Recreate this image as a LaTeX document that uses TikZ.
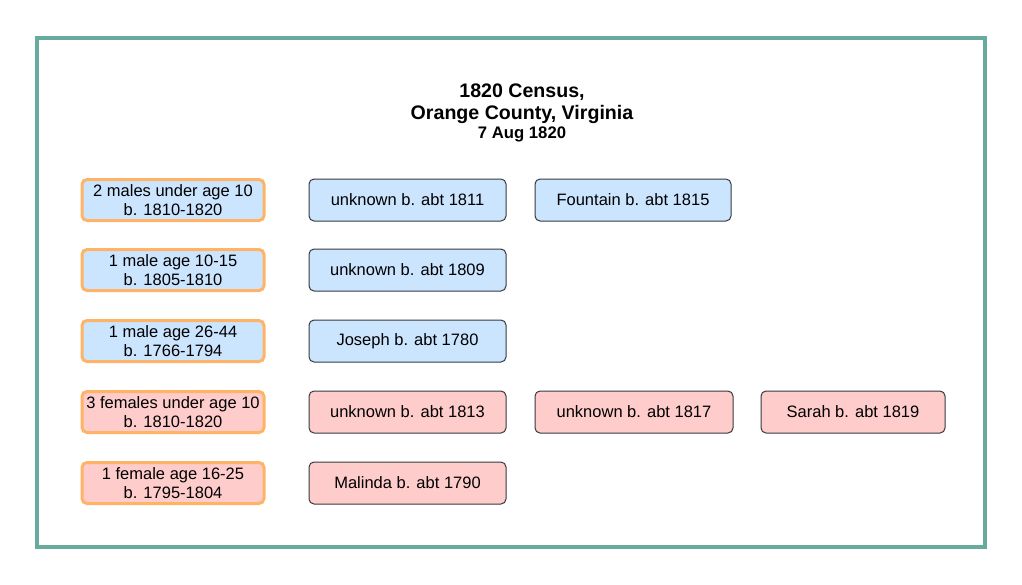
\documentclass[tikz,border=0pt]{standalone}
\usepackage{fontspec}
\setmainfont{Liberation Sans}
\definecolor{frame}{HTML}{67AB9F}
\definecolor{bluef}{HTML}{CCE5FF}
\definecolor{pinkf}{HTML}{FFCCCC}
\definecolor{orng}{HTML}{FFB366}
\definecolor{dgrey}{HTML}{36393D}
\begin{document}
\begin{tikzpicture}[x=1pt,y=-1pt,
  every node/.style={font=\fontsize{16.5}{19}\selectfont, align=center, inner sep=0pt},
  catbox/.style={draw=orng, line width=3pt, rounded corners=5pt, minimum width=182pt, minimum height=41pt},
  person/.style={draw=dgrey, line width=1pt, rounded corners=5pt, minimum height=42pt},
  male/.style={fill=bluef},
  female/.style={fill=pinkf}]
\useasboundingbox (0,0) rectangle (1022,584);
\node[draw=frame, line width=4pt, minimum width=948pt, minimum height=509pt] (frm) at (511,292.5) {};
\node[font=\bfseries\fontsize{19.6}{22}\selectfont] (t1) at (522,92) {1820 Census,};
\node[font=\bfseries\fontsize{19.6}{22}\selectfont] (t2) at (522,114) {Orange County, Virginia};
\node[font=\bfseries\fontsize{16.7}{19}\selectfont] (t3) at (522,134) {7 Aug 1820};

\node[catbox, male] (c1) at (173,200) {2 males under age 10\\b. 1810-1820};
\node[catbox, male] (c2) at (173,270) {1 male age 10-15\\b. 1805-1810};
\node[catbox, male] (c3) at (173,341) {1 male age 26-44\\b. 1766-1794};
\node[catbox, female] (c4) at (173,412) {3 females under age 10\\b. 1810-1820};
\node[catbox, female] (c5) at (173,483) {1 female age 16-25\\b. 1795-1804};

\node[person, male, minimum width=197pt] (p11) at (407.5,200) {unknown b. abt 1811};
\node[person, male, minimum width=196pt] (p12) at (633,200) {Fountain b. abt 1815};
\node[person, male, minimum width=197pt] (p21) at (407.5,270) {unknown b. abt 1809};
\node[person, male, minimum width=197pt] (p31) at (407.5,341) {Joseph b. abt 1780};
\node[person, female, minimum width=197pt] (p41) at (407.5,412) {unknown b. abt 1813};
\node[person, female, minimum width=198pt] (p42) at (634,412) {unknown b. abt 1817};
\node[person, female, minimum width=184pt] (p43) at (853,412) {Sarah b. abt 1819};
\node[person, female, minimum width=197pt] (p51) at (407.5,483) {Malinda b. abt 1790};
\end{tikzpicture}
\end{document}
